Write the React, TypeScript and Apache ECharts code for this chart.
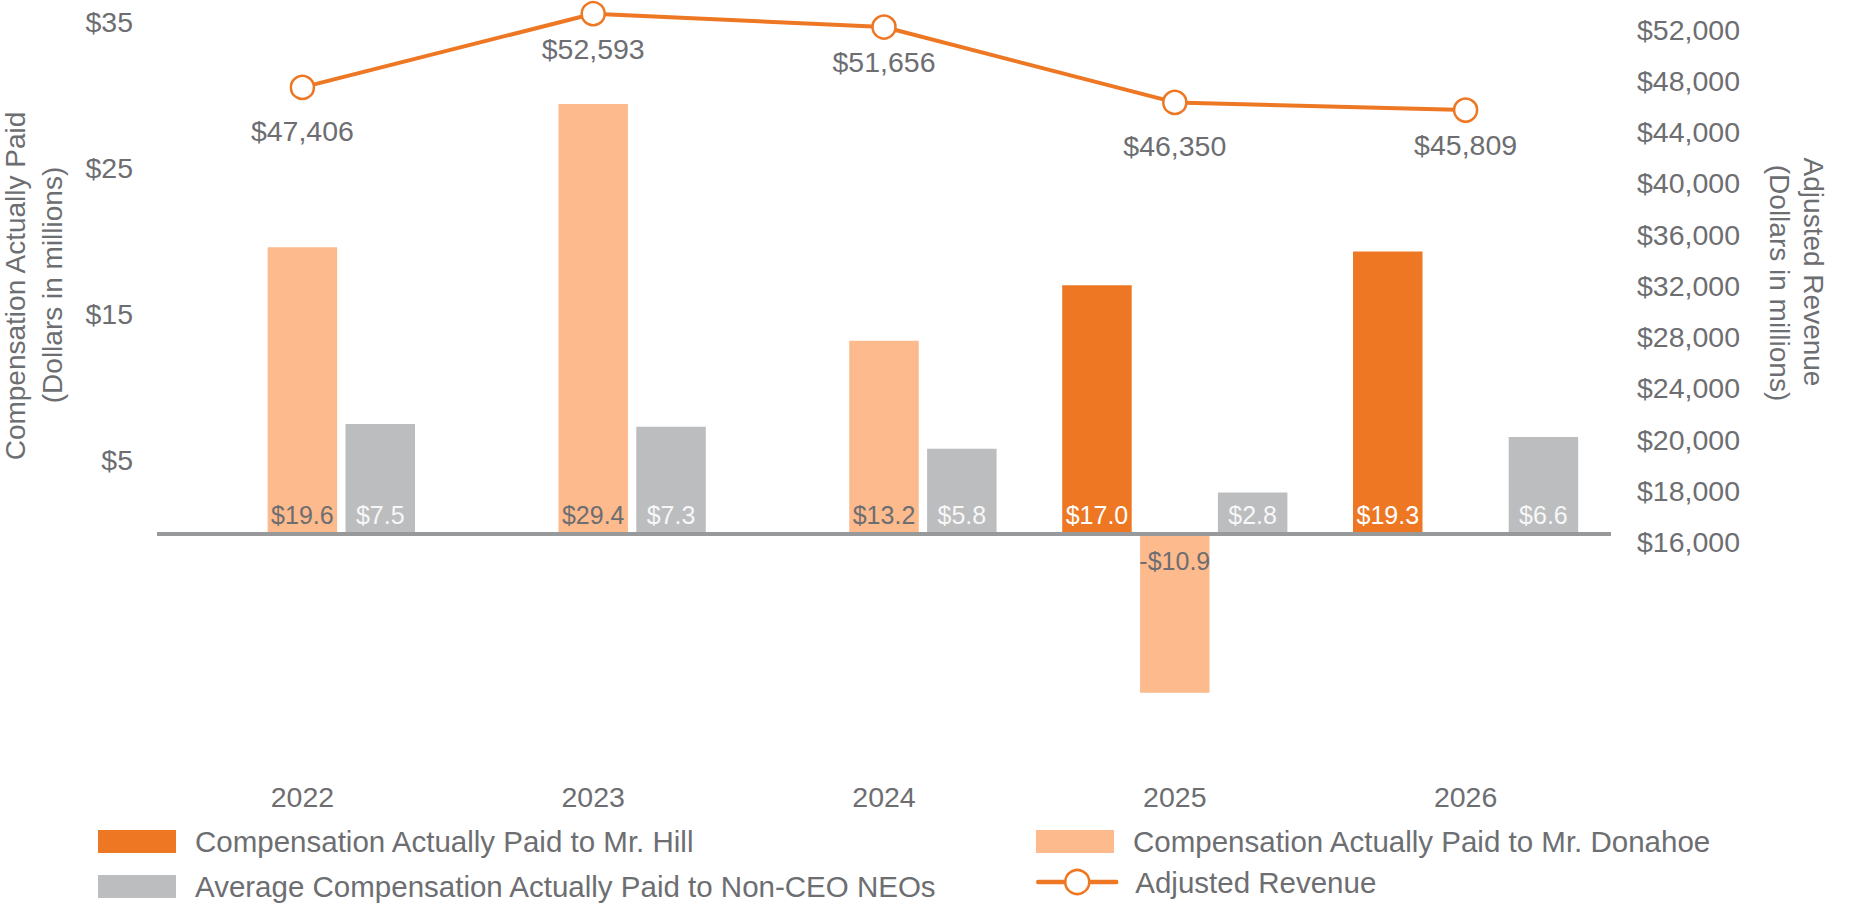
import React, { useEffect, useRef } from 'react';
import * as echarts from 'echarts';

// ---- data ----
const years = ['2022', '2023', '2024', '2025', '2026'];
const hillPay: (number | null)[] = [null, null, null, 17.0, 19.3];
const donahoePay: (number | null)[] = [19.6, 29.4, 13.2, -10.9, null];
const neoPay: (number | null)[] = [7.5, 7.3, 5.8, 2.8, 6.6];
const adjustedRevenue = [47406, 52593, 51656, 46350, 45809];
const leftTickValues = [5, 15, 25, 35];
const rightTickLabels = [
  '$16,000', '$18,000', '$20,000', '$24,000', '$28,000', '$32,000',
  '$36,000', '$40,000', '$44,000', '$48,000', '$52,000',
];

const NAME_HILL = 'Compensation Actually Paid to Mr. Hill';
const NAME_DONAHOE = 'Compensation Actually Paid to Mr. Donahoe';
const NAME_NEO = 'Average Compensation Actually Paid to Non-CEO NEOs';
const NAME_REV = 'Adjusted Revenue';

const FONT = '"Liberation Sans", Arial, Helvetica, sans-serif';
const TEXT = '#6d6e71';
const ORANGE = '#ed7723';
const LIGHT = '#fdba8d';
const GRAY = '#bcbdbf';

const fmtMoney = (v: number) => (v < 0 ? '-$' : '$') + Math.abs(v).toFixed(1);

export default function App() {
  const ref = useRef<HTMLDivElement>(null);
  useEffect(() => {
    document.body.style.margin = '0';
    const chart = echarts.init(ref.current!, null, { renderer: 'svg' });

    const leftMin = -15;
    const leftMax = 36;
    const revZero = 16000; // revenue value at the zero line
    const revTop = 52000; // revenue value level with $35
    const perUnit = (revTop - revZero) / 35;
    const rMin = revZero + leftMin * perUnit;
    const rMax = revZero + leftMax * perUnit;

    const gridLeft = 157;
    const gridRight = 240;
    const pxPerUnit = 14.61;
    const zeroY = 533.5;
    const gridTop = zeroY - leftMax * pxPerUnit;
    const gridHeight = (leftMax - leftMin) * pxPerUnit;

    const barLabel = (color: string) => ({
      show: true,
      position: 'insideBottom',
      distance: 6,
      fontSize: 25,
      fontFamily: FONT,
      color,
      formatter: (p: any) => fmtMoney(p.value),
    });

    const toItems = (arr: (number | null)[]) =>
      arr.map((v) =>
        v != null && v < 0
          ? { value: v, label: { position: 'insideTop', distance: 15 } }
          : v
      );

    // label distance below each revenue marker (style only)
    const revLabelDistance = [16, 8, 8, 16, 8];

    const legendText = (lh: number) => ({
      fontSize: 29.5,
      color: TEXT,
      fontFamily: FONT,
      lineHeight: lh,
      padding: [0, 0, 0, 14],
    });
    const mkLegend = (name: string, left: number, top: number, isLine = false) => ({
      left,
      top,
      orient: 'horizontal',
      padding: 0,
      itemWidth: 78,
      itemHeight: isLine ? 30 : 23,
      selectedMode: false,
      textStyle: legendText(isLine ? 30 : 23),
      data: [
        isLine
          ? { name, lineStyle: { width: 4.5, cap: 'round' }, itemStyle: { borderWidth: 2.5 } }
          : { name, icon: 'rect' },
      ],
    });

    const option: any = {
      animation: false,
      backgroundColor: '#ffffff',
      textStyle: { fontFamily: FONT },
      grid: [
        { left: gridLeft, right: gridRight, top: gridTop, height: gridHeight },
        { left: gridLeft, right: gridRight, top: 29.5, height: 512.5 },
      ],
      xAxis: [
        {
          type: 'category',
          gridIndex: 0,
          data: years,
          axisLine: { show: false, onZero: false },
          axisTick: { show: false },
          splitLine: { show: false },
          axisLabel: { margin: 30, fontSize: 28.5, color: TEXT, fontFamily: FONT },
        },
        { type: 'value', gridIndex: 1, show: false, min: 0, max: 1 },
      ],
      yAxis: [
        {
          type: 'value',
          gridIndex: 0,
          min: leftMin,
          max: leftMax,
          interval: 5,
          axisLine: { show: false },
          axisTick: { show: false },
          splitLine: { show: false },
          axisLabel: {
            margin: 24,
            fontSize: 28.5,
            color: TEXT,
            fontFamily: FONT,
            padding: [17, 0, 0, 0],
            showMinLabel: true,
            showMaxLabel: true,
            formatter: (v: number) => (leftTickValues.includes(v) ? '$' + v : ''),
          },
        },
        {
          type: 'value',
          gridIndex: 0,
          min: rMin,
          max: rMax,
          show: false,
          splitLine: { show: false },
        },
        {
          type: 'category',
          gridIndex: 1,
          position: 'right',
          data: rightTickLabels,
          boundaryGap: false,
          axisLine: { show: false },
          axisTick: { show: false },
          splitLine: { show: false },
          axisLabel: {
            margin: 26,
            fontSize: 28.5,
            color: TEXT,
            fontFamily: FONT,
            interval: 0,
          },
        },
      ],
      legend: [
        mkLegend(NAME_HILL, 98, 826.5),
        mkLegend(NAME_NEO, 98, 871.5),
        mkLegend(NAME_DONAHOE, 1036, 826.5),
        mkLegend(NAME_REV, 1036, 867, true),
      ],
      graphic: [
        {
          type: 'text',
          x: 15,
          y: 286,
          rotation: Math.PI / 2,
          style: {
            text: 'Compensation Actually Paid',
            font: `28px ${FONT}`,
            fill: TEXT,
            align: 'center',
            verticalAlign: 'middle',
          },
        },
        {
          type: 'text',
          x: 52,
          y: 285,
          rotation: Math.PI / 2,
          style: {
            text: '(Dollars in millions)',
            font: `28px ${FONT}`,
            fill: TEXT,
            align: 'center',
            verticalAlign: 'middle',
          },
        },
        {
          type: 'text',
          x: 1813,
          y: 272,
          rotation: -Math.PI / 2,
          style: {
            text: 'Adjusted Revenue',
            font: `28px ${FONT}`,
            fill: TEXT,
            align: 'center',
            verticalAlign: 'middle',
          },
        },
        {
          type: 'text',
          x: 1779,
          y: 283,
          rotation: -Math.PI / 2,
          style: {
            text: '(Dollars in millions)',
            font: `28px ${FONT}`,
            fill: TEXT,
            align: 'center',
            verticalAlign: 'middle',
          },
        },
      ],
      series: [
        {
          name: NAME_HILL,
          type: 'bar',
          xAxisIndex: 0,
          yAxisIndex: 0,
          data: toItems(hillPay),
          barWidth: 69.5,
          barGap: '12%',
          itemStyle: { color: ORANGE },
          label: barLabel('#ffffff'),
          markLine: {
            silent: true,
            symbol: 'none',
            data: [{ yAxis: 0 }],
            lineStyle: { color: '#98999b', width: 4, type: 'solid' },
            label: { show: false },
            emphasis: { disabled: true },
          },
        },
        {
          name: NAME_DONAHOE,
          type: 'bar',
          xAxisIndex: 0,
          yAxisIndex: 0,
          data: toItems(donahoePay),
          barWidth: 69.5,
          barGap: '12%',
          itemStyle: { color: LIGHT },
          label: barLabel(TEXT),
        },
        {
          name: NAME_NEO,
          type: 'bar',
          xAxisIndex: 0,
          yAxisIndex: 0,
          data: toItems(neoPay),
          barWidth: 69.5,
          barGap: '12%',
          itemStyle: { color: GRAY },
          label: barLabel('#f7f7f7'),
        },
        {
          name: NAME_REV,
          type: 'line',
          xAxisIndex: 0,
          yAxisIndex: 1,
          data: adjustedRevenue.map((v, i) => ({
            value: v,
            label: { distance: revLabelDistance[i] },
          })),
          clip: false,
          z: 5,
          symbol: 'circle',
          symbolSize: 23,
          showAllSymbol: true,
          lineStyle: { color: ORANGE, width: 4 },
          itemStyle: { color: '#ffffff', borderColor: ORANGE, borderWidth: 2.5 },
          label: {
            show: true,
            position: 'bottom',
            distance: 14,
            fontSize: 28.5,
            fontFamily: FONT,
            color: TEXT,
            formatter: (p: any) => '$' + Number(p.value).toLocaleString('en-US'),
          },
        },
      ],
    };

    chart.setOption(option);
    return () => chart.dispose();
  }, []);

  return <div ref={ref} style={{ width: 1851, height: 904 }} />;
}
